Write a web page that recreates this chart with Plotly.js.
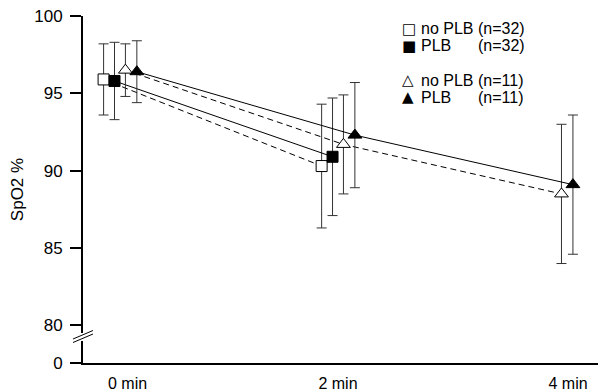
<!DOCTYPE html>
<html>
<head>
<meta charset="utf-8">
<script src="https://cdn.plot.ly/plotly-3.0.1.min.js"></script>
<style>
html,body{margin:0;padding:0;background:#fff;}
#chart{width:598px;height:392px;}
</style>
</head>
<body>
<div id="chart"></div>
<script>
// ---- data ----
var times = [0, 2, 4];
var timeLabels = ["0 min", "2 min", "4 min"];

var noPLB32_mean = [95.9, 90.3];
var noPLB32_sd   = [2.3, 4.0];
var PLB32_mean   = [95.8, 90.9];
var PLB32_sd     = [2.5, 3.8];
var noPLB11_mean = [96.5, 91.7, 88.5];
var noPLB11_sd   = [1.7, 3.2, 4.5];
var PLB11_mean   = [96.4, 92.3, 89.1];
var PLB11_sd     = [2.0, 3.4, 4.5];

var seriesNames = ["no PLB", "PLB", "no PLB", "PLB"];
var seriesN     = ["(n=32)", "(n=32)", "(n=11)", "(n=11)"];
var seriesGlyph = ["\u25A1", "\u25A0", "\u25B3", "\u25B2"];

var yTickVals = [80, 85, 90, 95, 100];
var yTickText = ["80", "85", "90", "95", "100"];

// ---- layout constants (styling) ----
var W = 598, H = 392;
var L = 83, R = 0, T = 16, B = 29;
var yBottom = 77.57;          // value sitting on the x-axis (drawn as "0" after the break)
var FONT = "Liberation Sans, Arial, Helvetica, sans-serif";
var offsets = [-0.15, -0.05, 0.05, 0.155];
var labelNudge = [0.07, 0, 0.11];

function shift(arr, d) { return arr.map(function (t) { return t + d; }); }

function trace(xs, mean, sd, sym, fill, dash, off) {
  return {
    type: "scatter",
    mode: "lines+markers",
    x: shift(xs.slice(0, mean.length), off),
    y: mean,
    error_y: { type: "data", array: sd, visible: true, color: "#333", thickness: 1, width: 5 },
    line: { color: "#000", width: 1, dash: dash },
    marker: { symbol: sym, size: sym === "square" ? 11 : 12, color: fill, line: { color: "#000", width: 1 } },
    showlegend: false,
    hoverinfo: "skip"
  };
}

var data = [
  trace(times, noPLB32_mean, noPLB32_sd, "square", "#fff", "6px,4px", offsets[0]),
  trace(times, PLB32_mean, PLB32_sd, "square", "#000", "solid", offsets[1]),
  trace(times, noPLB11_mean, noPLB11_sd, "triangle-up", "#fff", "6px,4px", offsets[2]),
  trace(times, PLB11_mean, PLB11_sd, "triangle-up", "#000", "solid", offsets[3])
];

var plotW = W - L - R, plotH = H - T - B;
function px2paperX(px) { return (px - L) / plotW; }
function px2paperY(py) { return (H - B - py) / plotH; }

var annotations = [];
var rowsY = [29, 46, 80, 97];
for (var i = 0; i < 4; i++) {
  annotations.push({ xref: "paper", yref: "paper", x: px2paperX(400), y: px2paperY(rowsY[i]),
    xanchor: "left", yanchor: "middle", showarrow: false, text: seriesGlyph[i],
    font: { family: "DejaVu Sans, sans-serif", size: 15, color: "#000" } });
  annotations.push({ xref: "paper", yref: "paper", x: px2paperX(419), y: px2paperY(rowsY[i]),
    xanchor: "left", yanchor: "middle", showarrow: false, text: seriesNames[i],
    font: { family: FONT, size: 16, color: "#000" } });
  annotations.push({ xref: "paper", yref: "paper", x: px2paperX(476), y: px2paperY(rowsY[i]),
    xanchor: "left", yanchor: "middle", showarrow: false, text: seriesN[i],
    font: { family: FONT, size: 16, color: "#000" } });
}

var breakY = 79.25;
var shapes = [
  // gap in the axis
  { type: "rect", xref: "paper", yref: "y", xsizemode: "pixel", ysizemode: "pixel",
    xanchor: 0, yanchor: breakY, x0: -3, x1: 3, y0: -4, y1: 4,
    fillcolor: "#fff", line: { width: 0 }, layer: "above" },
  { type: "line", xref: "paper", yref: "y", xsizemode: "pixel", ysizemode: "pixel",
    xanchor: 0, yanchor: breakY, x0: -10, x1: 10, y0: -5.5, y1: 3,
    line: { color: "#000", width: 1 }, layer: "above" },
  { type: "line", xref: "paper", yref: "y", xsizemode: "pixel", ysizemode: "pixel",
    xanchor: 0, yanchor: breakY, x0: -10, x1: 10, y0: -2, y1: 6.5,
    line: { color: "#000", width: 1 }, layer: "above" }
];

var layout = {
  width: W, height: H,
  margin: { l: L, r: R, t: T, b: B, pad: 0 },
  paper_bgcolor: "#fff", plot_bgcolor: "#fff",
  font: { family: FONT, size: 16, color: "#000" },
  showlegend: false,
  xaxis: {
    range: [-0.339, 4.385],
    tickvals: times.map(function (t, k) { return t + labelNudge[k]; }),
    ticktext: timeLabels,
    ticks: "", showgrid: false, zeroline: false,
    showline: true, linecolor: "#000", linewidth: 2,
    tickfont: { family: FONT, size: 16 },
    ticklabelstandoff: 5,
    fixedrange: true
  },
  yaxis: {
    range: [yBottom, 100],
    tickvals: [yBottom].concat(yTickVals),
    ticktext: ["0"].concat(yTickText),
    ticks: "outside", ticklen: 11, tickwidth: 2, tickcolor: "#000",
    showgrid: false, zeroline: false,
    showline: true, linecolor: "#000", linewidth: 2,
    tickfont: { family: FONT, size: 17 },
    ticklabelstandoff: 4,
    title: { text: "SpO2 %", font: { family: FONT, size: 17 }, standoff: 6 },
    fixedrange: true
  },
  annotations: annotations,
  shapes: shapes
};

Plotly.newPlot("chart", data, layout, { staticPlot: true, displayModeBar: false });
</script>
</body>
</html>
